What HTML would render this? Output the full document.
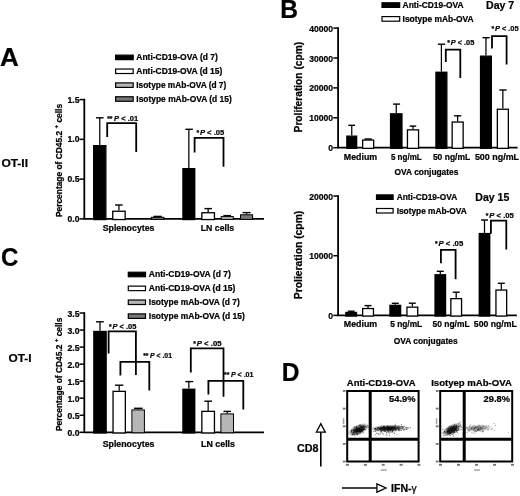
<!DOCTYPE html>
<html><head><meta charset="utf-8"><title>Figure</title>
<style>
html,body{margin:0;padding:0;background:#fff;}
body{width:520px;height:496px;overflow:hidden;}
svg{display:block;font-family:"Liberation Sans",sans-serif;}
svg text{fill:#000;stroke:#000;stroke-width:0.22px;}
</style></head><body>
<svg width="520" height="496" viewBox="0 0 520 496">
<defs><filter id="soft" x="0" y="0" width="520" height="496" filterUnits="userSpaceOnUse"><feGaussianBlur stdDeviation="0.38"/></filter></defs>
<rect x="0" y="0" width="520" height="496" fill="#fff"/>
<g filter="url(#soft)">
<rect x="-5" y="-5" width="530" height="506" fill="#fff"/>
<text x="0" y="66.1" font-size="26" font-weight="bold" text-anchor="start" textLength="18.8" lengthAdjust="spacingAndGlyphs" >A</text>
<text x="280.3" y="17.5" font-size="26" font-weight="bold" text-anchor="start" textLength="17.8" lengthAdjust="spacingAndGlyphs" >B</text>
<text x="0.9" y="266" font-size="26" font-weight="bold" text-anchor="start" textLength="17.4" lengthAdjust="spacingAndGlyphs" >C</text>
<text x="281.8" y="381.2" font-size="26" font-weight="bold" text-anchor="start" textLength="17.8" lengthAdjust="spacingAndGlyphs" >D</text>
<text x="1.4" y="167.1" font-size="11.8" font-weight="bold" text-anchor="start" textLength="26.6" lengthAdjust="spacingAndGlyphs" >OT-II</text>
<rect x="115.6" y="55.15" width="17.6" height="4.5" fill="#000" stroke="#000" stroke-width="1.2"/>
<text x="136.3" y="60.10" font-size="8.2" font-weight="bold" text-anchor="start" textLength="81.5" lengthAdjust="spacingAndGlyphs" >Anti-CD19-OVA (d 7)</text>
<rect x="115.6" y="69.02" width="17.6" height="4.5" fill="#fff" stroke="#000" stroke-width="1.2"/>
<text x="136.3" y="73.97" font-size="8.2" font-weight="bold" text-anchor="start" textLength="86" lengthAdjust="spacingAndGlyphs" >Anti-CD19-OVA (d 15)</text>
<rect x="115.6" y="82.89" width="17.6" height="4.5" fill="#b6b6b6" stroke="#000" stroke-width="1.2"/>
<text x="136.3" y="87.84" font-size="8.2" font-weight="bold" text-anchor="start" textLength="90" lengthAdjust="spacingAndGlyphs" >Isotype mAb-OVA (d 7)</text>
<rect x="115.6" y="96.75999999999999" width="17.6" height="4.5" fill="#787878" stroke="#000" stroke-width="1.2"/>
<text x="136.3" y="101.71" font-size="8.2" font-weight="bold" text-anchor="start" textLength="95.5" lengthAdjust="spacingAndGlyphs" >Isotype mAb-OVA (d 15)</text>
<path d="M84.3 98.85 V218.9 H264" fill="none" stroke="#000" stroke-width="1.8"/>
<line x1="79.5" y1="218.90" x2="84.3" y2="218.90" stroke="#000" stroke-width="1.5"/>
<text x="79.5" y="221.90" font-size="8.6" font-weight="bold" text-anchor="end" >0.0</text>
<line x1="79.5" y1="179.13" x2="84.3" y2="179.13" stroke="#000" stroke-width="1.5"/>
<text x="79.5" y="182.13" font-size="8.6" font-weight="bold" text-anchor="end" >0.5</text>
<line x1="79.5" y1="139.36" x2="84.3" y2="139.36" stroke="#000" stroke-width="1.5"/>
<text x="79.5" y="142.36" font-size="8.6" font-weight="bold" text-anchor="end" >1.0</text>
<line x1="79.5" y1="99.59" x2="84.3" y2="99.59" stroke="#000" stroke-width="1.5"/>
<text x="79.5" y="102.59" font-size="8.6" font-weight="bold" text-anchor="end" >1.5</text>
<text transform="translate(61.5,217.1) rotate(-90)" font-size="8.2" font-weight="bold" textLength="113.2" lengthAdjust="spacingAndGlyphs">Percentage of CD45.2 <tspan font-size="6" dy="-3.4">+</tspan><tspan dy="3.4"> cells</tspan></text>
<line x1="99.75" y1="145" x2="99.75" y2="117.8" stroke="#000" stroke-width="1.25"/>
<line x1="96" y1="117.8" x2="103.6" y2="117.8" stroke="#000" stroke-width="1.4"/>
<rect x="93.65" y="145.65" width="12.20" height="73.90" fill="#000" stroke="#000" stroke-width="1.3"/>
<line x1="118.95" y1="210.6" x2="118.95" y2="205" stroke="#000" stroke-width="1.25"/>
<line x1="115.1" y1="205" x2="122.6" y2="205" stroke="#000" stroke-width="1.4"/>
<rect x="112.75" y="211.25" width="12.40" height="8.30" fill="#fff" stroke="#000" stroke-width="1.3"/>
<line x1="157.60" y1="216.8" x2="157.60" y2="216.4" stroke="#000" stroke-width="1.25"/>
<line x1="153.4" y1="216.4" x2="161.8" y2="216.4" stroke="#000" stroke-width="1.4"/>
<rect x="151.30" y="217.30" width="12.60" height="2.10" fill="#787878" stroke="#000" stroke-width="1"/>
<line x1="188.85" y1="168" x2="188.85" y2="129.3" stroke="#000" stroke-width="1.25"/>
<line x1="185.4" y1="129.3" x2="192.9" y2="129.3" stroke="#000" stroke-width="1.4"/>
<rect x="182.95" y="168.65" width="11.80" height="50.90" fill="#000" stroke="#000" stroke-width="1.3"/>
<line x1="208.15" y1="212.1" x2="208.15" y2="208.6" stroke="#000" stroke-width="1.25"/>
<line x1="204.4" y1="208.6" x2="212" y2="208.6" stroke="#000" stroke-width="1.4"/>
<rect x="201.85" y="212.75" width="12.60" height="6.80" fill="#fff" stroke="#000" stroke-width="1.3"/>
<line x1="227.25" y1="216.1" x2="227.25" y2="215.6" stroke="#000" stroke-width="1.25"/>
<line x1="223.4" y1="215.6" x2="231" y2="215.6" stroke="#000" stroke-width="1.4"/>
<rect x="221.20" y="216.60" width="12.10" height="2.80" fill="#b6b6b6" stroke="#000" stroke-width="1"/>
<line x1="246.55" y1="214.3" x2="246.55" y2="212.6" stroke="#000" stroke-width="1.25"/>
<line x1="242.6" y1="212.6" x2="250.6" y2="212.6" stroke="#000" stroke-width="1.4"/>
<rect x="240.50" y="214.80" width="12.10" height="4.60" fill="#787878" stroke="#000" stroke-width="1"/>
<path d="M107.2 137 V123.2 H136.2 V152" fill="none" stroke="#000" stroke-width="1.8" stroke-linejoin="miter"/>
<text x="107.2" y="120.5" font-size="6.8" font-weight="bold">**</text>
<text x="114.10" y="120.5" font-size="7.0" font-weight="bold" textLength="24.00" lengthAdjust="spacingAndGlyphs"><tspan font-style="italic">P</tspan> &lt; .01</text>
<path d="M194.6 152.4 V137.8 H223.5 V166.8" fill="none" stroke="#000" stroke-width="1.8" stroke-linejoin="miter"/>
<text x="196.4" y="134.8" font-size="6.8" font-weight="bold">*</text>
<text x="199.90" y="134.8" font-size="7.0" font-weight="bold" textLength="24.30" lengthAdjust="spacingAndGlyphs"><tspan font-style="italic">P</tspan> &lt; .05</text>
<text x="102.7" y="230.5" font-size="9.0" font-weight="bold" text-anchor="start" textLength="51.8" lengthAdjust="spacingAndGlyphs" >Splenocytes</text>
<text x="200.8" y="230.5" font-size="9.0" font-weight="bold" text-anchor="start" textLength="33.4" lengthAdjust="spacingAndGlyphs" >LN cells</text>
<text x="8.5" y="361.5" font-size="11.6" font-weight="bold" text-anchor="start" textLength="23" lengthAdjust="spacingAndGlyphs" >OT-I</text>
<rect x="128.3" y="272.25" width="17.2" height="4.5" fill="#000" stroke="#000" stroke-width="1.2"/>
<text x="148.8" y="277.30" font-size="8.2" font-weight="bold" text-anchor="start" textLength="82" lengthAdjust="spacingAndGlyphs" >Anti-CD19-OVA (d 7)</text>
<rect x="128.3" y="286.13" width="17.2" height="4.5" fill="#fff" stroke="#000" stroke-width="1.2"/>
<text x="148.8" y="291.18" font-size="8.2" font-weight="bold" text-anchor="start" textLength="86.5" lengthAdjust="spacingAndGlyphs" >Anti-CD19-OVA (d 15)</text>
<rect x="128.3" y="300.01" width="17.2" height="4.5" fill="#b6b6b6" stroke="#000" stroke-width="1.2"/>
<text x="148.8" y="305.06" font-size="8.2" font-weight="bold" text-anchor="start" textLength="91" lengthAdjust="spacingAndGlyphs" >Isotype mAb-OVA (d 7)</text>
<rect x="128.3" y="313.89" width="17.2" height="4.5" fill="#787878" stroke="#000" stroke-width="1.2"/>
<text x="148.8" y="318.94" font-size="8.2" font-weight="bold" text-anchor="start" textLength="96" lengthAdjust="spacingAndGlyphs" >Isotype mAb-OVA (d 15)</text>
<path d="M84.3 312.3 V432.3 H264" fill="none" stroke="#000" stroke-width="1.8"/>
<line x1="79.5" y1="432.30" x2="84.3" y2="432.30" stroke="#000" stroke-width="1.5"/>
<text x="79.5" y="436.10" font-size="8.6" font-weight="bold" text-anchor="end" >0.0</text>
<line x1="79.5" y1="415.26" x2="84.3" y2="415.26" stroke="#000" stroke-width="1.5"/>
<text x="79.5" y="419.06" font-size="8.6" font-weight="bold" text-anchor="end" >0.5</text>
<line x1="79.5" y1="398.22" x2="84.3" y2="398.22" stroke="#000" stroke-width="1.5"/>
<text x="79.5" y="402.02" font-size="8.6" font-weight="bold" text-anchor="end" >1.0</text>
<line x1="79.5" y1="381.18" x2="84.3" y2="381.18" stroke="#000" stroke-width="1.5"/>
<text x="79.5" y="384.98" font-size="8.6" font-weight="bold" text-anchor="end" >1.5</text>
<line x1="79.5" y1="364.14" x2="84.3" y2="364.14" stroke="#000" stroke-width="1.5"/>
<text x="79.5" y="367.94" font-size="8.6" font-weight="bold" text-anchor="end" >2.0</text>
<line x1="79.5" y1="347.10" x2="84.3" y2="347.10" stroke="#000" stroke-width="1.5"/>
<text x="79.5" y="350.90" font-size="8.6" font-weight="bold" text-anchor="end" >2.5</text>
<line x1="79.5" y1="330.06" x2="84.3" y2="330.06" stroke="#000" stroke-width="1.5"/>
<text x="79.5" y="333.86" font-size="8.6" font-weight="bold" text-anchor="end" >3.0</text>
<line x1="79.5" y1="313.02" x2="84.3" y2="313.02" stroke="#000" stroke-width="1.5"/>
<text x="79.5" y="316.82" font-size="8.6" font-weight="bold" text-anchor="end" >3.5</text>
<text transform="translate(61.5,431) rotate(-90)" font-size="8.2" font-weight="bold" textLength="113.4" lengthAdjust="spacingAndGlyphs">Percentage of CD45.2 <tspan font-size="6" dy="-3.4">+</tspan><tspan dy="3.4"> cells</tspan></text>
<line x1="100.00" y1="330.8" x2="100.00" y2="321.8" stroke="#000" stroke-width="1.25"/>
<line x1="96" y1="321.8" x2="103.8" y2="321.8" stroke="#000" stroke-width="1.4"/>
<rect x="93.85" y="331.45" width="12.30" height="101.50" fill="#000" stroke="#000" stroke-width="1.3"/>
<line x1="119.20" y1="390.7" x2="119.20" y2="385.2" stroke="#000" stroke-width="1.25"/>
<line x1="115" y1="385.2" x2="123.4" y2="385.2" stroke="#000" stroke-width="1.4"/>
<rect x="113.05" y="391.35" width="12.30" height="41.60" fill="#fff" stroke="#000" stroke-width="1.3"/>
<line x1="138.15" y1="409.4" x2="138.15" y2="408.3" stroke="#000" stroke-width="1.25"/>
<line x1="134" y1="408.3" x2="142.6" y2="408.3" stroke="#000" stroke-width="1.4"/>
<rect x="131.90" y="409.90" width="12.50" height="22.90" fill="#b6b6b6" stroke="#000" stroke-width="1"/>
<line x1="188.85" y1="388.6" x2="188.85" y2="381.6" stroke="#000" stroke-width="1.25"/>
<line x1="185.4" y1="381.6" x2="193.2" y2="381.6" stroke="#000" stroke-width="1.4"/>
<rect x="182.95" y="389.25" width="11.80" height="43.70" fill="#000" stroke="#000" stroke-width="1.3"/>
<line x1="208.15" y1="410.7" x2="208.15" y2="401.2" stroke="#000" stroke-width="1.25"/>
<line x1="204.4" y1="401.2" x2="212" y2="401.2" stroke="#000" stroke-width="1.4"/>
<rect x="201.85" y="411.35" width="12.60" height="21.60" fill="#fff" stroke="#000" stroke-width="1.3"/>
<line x1="227.20" y1="413.4" x2="227.20" y2="411.4" stroke="#000" stroke-width="1.25"/>
<line x1="223.5" y1="411.4" x2="231" y2="411.4" stroke="#000" stroke-width="1.4"/>
<rect x="220.90" y="413.90" width="12.60" height="18.90" fill="#b6b6b6" stroke="#000" stroke-width="1"/>
<path d="M108.6 353.4 V331.3 H135.9 V375" fill="none" stroke="#000" stroke-width="1.8" stroke-linejoin="miter"/>
<path d="M120.4 375.6 V361.8 H149.3 V390.4" fill="none" stroke="#000" stroke-width="1.8" stroke-linejoin="miter"/>
<text x="109" y="328.6" font-size="6.8" font-weight="bold">*</text>
<text x="112.50" y="328.6" font-size="7.0" font-weight="bold" textLength="23.90" lengthAdjust="spacingAndGlyphs"><tspan font-style="italic">P</tspan> &lt; .05</text>
<text x="143.2" y="357.9" font-size="6.8" font-weight="bold">**</text>
<text x="150.10" y="357.9" font-size="7.0" font-weight="bold" textLength="21.90" lengthAdjust="spacingAndGlyphs"><tspan font-style="italic">P</tspan> &lt; .01</text>
<path d="M190.8 372.5 V348.4 H223.5 V396.7" fill="none" stroke="#000" stroke-width="1.8" stroke-linejoin="miter"/>
<path d="M208.4 394.5 V380.8 H243.3 V409.4" fill="none" stroke="#000" stroke-width="1.8" stroke-linejoin="miter"/>
<text x="193.3" y="346.3" font-size="6.8" font-weight="bold">*</text>
<text x="196.80" y="346.3" font-size="7.0" font-weight="bold" textLength="24.70" lengthAdjust="spacingAndGlyphs"><tspan font-style="italic">P</tspan> &lt; .05</text>
<text x="224" y="377.2" font-size="6.8" font-weight="bold">**</text>
<text x="230.90" y="377.2" font-size="7.0" font-weight="bold" textLength="22.60" lengthAdjust="spacingAndGlyphs"><tspan font-style="italic">P</tspan> &lt; .01</text>
<text x="102.7" y="446.8" font-size="9.0" font-weight="bold" text-anchor="start" textLength="51.8" lengthAdjust="spacingAndGlyphs" >Splenocytes</text>
<text x="201" y="446.8" font-size="9.0" font-weight="bold" text-anchor="start" textLength="34" lengthAdjust="spacingAndGlyphs" >LN cells</text>
<rect x="382.0" y="2.8000000000000003" width="17.7" height="4.6" fill="#000" stroke="#000" stroke-width="1.2"/>
<text x="402.6" y="7.9" font-size="8.2" font-weight="bold" text-anchor="start" textLength="61" lengthAdjust="spacingAndGlyphs" >Anti-CD19-OVA</text>
<rect x="382.0" y="16.6" width="17.7" height="4.6" fill="#fff" stroke="#000" stroke-width="1.2"/>
<text x="402.6" y="22.2" font-size="8.2" font-weight="bold" text-anchor="start" textLength="71" lengthAdjust="spacingAndGlyphs" >Isotype mAb-OVA</text>
<text x="486.0" y="8.95" font-size="10.4" font-weight="bold" text-anchor="start" textLength="28.2" lengthAdjust="spacingAndGlyphs" >Day 7</text>
<path d="M338.1 27.3 V147.7 H517.6" fill="none" stroke="#000" stroke-width="1.8"/>
<line x1="333.3" y1="147.70" x2="338.1" y2="147.70" stroke="#000" stroke-width="1.5"/>
<text x="333.1" y="151.20" font-size="8.6" font-weight="bold" text-anchor="end" >0</text>
<line x1="333.3" y1="117.80" x2="338.1" y2="117.80" stroke="#000" stroke-width="1.5"/>
<text x="333.1" y="121.30" font-size="8.6" font-weight="bold" text-anchor="end" >10000</text>
<line x1="333.3" y1="87.90" x2="338.1" y2="87.90" stroke="#000" stroke-width="1.5"/>
<text x="333.1" y="91.40" font-size="8.6" font-weight="bold" text-anchor="end" >20000</text>
<line x1="333.3" y1="58.00" x2="338.1" y2="58.00" stroke="#000" stroke-width="1.5"/>
<text x="333.1" y="61.50" font-size="8.6" font-weight="bold" text-anchor="end" >30000</text>
<line x1="333.3" y1="28.10" x2="338.1" y2="28.10" stroke="#000" stroke-width="1.5"/>
<text x="333.1" y="31.60" font-size="8.6" font-weight="bold" text-anchor="end" >40000</text>
<text transform="translate(301.8,132.4) rotate(-90)" font-size="10.6" font-weight="bold" textLength="90.5" lengthAdjust="spacingAndGlyphs">Proliferation (cpm)</text>
<line x1="351.75" y1="135.5" x2="351.75" y2="125.3" stroke="#000" stroke-width="1.25"/>
<line x1="348.3" y1="125.3" x2="355.1" y2="125.3" stroke="#000" stroke-width="1.4"/>
<rect x="346.85" y="136.15" width="9.80" height="12.20" fill="#000" stroke="#000" stroke-width="1.3"/>
<line x1="368.15" y1="139.4" x2="368.15" y2="139.0" stroke="#000" stroke-width="1.25"/>
<line x1="364.5" y1="139.0" x2="371.8" y2="139.0" stroke="#000" stroke-width="1.4"/>
<rect x="362.65" y="140.05" width="11.00" height="8.30" fill="#fff" stroke="#000" stroke-width="1.3"/>
<line x1="396.25" y1="113.2" x2="396.25" y2="104.1" stroke="#000" stroke-width="1.25"/>
<line x1="393.0" y1="104.1" x2="400.1" y2="104.1" stroke="#000" stroke-width="1.4"/>
<rect x="390.55" y="113.85" width="11.40" height="34.50" fill="#000" stroke="#000" stroke-width="1.3"/>
<line x1="413.00" y1="129.2" x2="413.00" y2="126.1" stroke="#000" stroke-width="1.25"/>
<line x1="409.6" y1="126.1" x2="416.2" y2="126.1" stroke="#000" stroke-width="1.4"/>
<rect x="407.45" y="129.85" width="11.10" height="18.50" fill="#fff" stroke="#000" stroke-width="1.3"/>
<line x1="441.40" y1="71.6" x2="441.40" y2="44.2" stroke="#000" stroke-width="1.25"/>
<line x1="437.9" y1="44.2" x2="445.2" y2="44.2" stroke="#000" stroke-width="1.4"/>
<rect x="435.95" y="72.25" width="10.90" height="76.10" fill="#000" stroke="#000" stroke-width="1.3"/>
<line x1="457.65" y1="121.4" x2="457.65" y2="115.8" stroke="#000" stroke-width="1.25"/>
<line x1="454.1" y1="115.8" x2="461.3" y2="115.8" stroke="#000" stroke-width="1.4"/>
<rect x="452.15" y="122.05" width="11.00" height="26.30" fill="#fff" stroke="#000" stroke-width="1.3"/>
<line x1="485.95" y1="55.5" x2="485.95" y2="37.7" stroke="#000" stroke-width="1.25"/>
<line x1="482.5" y1="37.7" x2="489.7" y2="37.7" stroke="#000" stroke-width="1.4"/>
<rect x="480.55" y="56.15" width="10.80" height="92.20" fill="#000" stroke="#000" stroke-width="1.3"/>
<line x1="502.85" y1="108.6" x2="502.85" y2="90" stroke="#000" stroke-width="1.25"/>
<line x1="499.3" y1="90" x2="506.6" y2="90" stroke="#000" stroke-width="1.4"/>
<rect x="497.35" y="109.25" width="11.00" height="39.10" fill="#fff" stroke="#000" stroke-width="1.3"/>
<path d="M445.8 62 V49.7 H460.3 V78" fill="none" stroke="#000" stroke-width="1.8" stroke-linejoin="miter"/>
<text x="447.3" y="44.5" font-size="6.8" font-weight="bold">*</text>
<text x="450.80" y="44.5" font-size="7.0" font-weight="bold" textLength="23.50" lengthAdjust="spacingAndGlyphs"><tspan font-style="italic">P</tspan> &lt; .05</text>
<path d="M492 48.6 V36.2 H506.6 V64.4" fill="none" stroke="#000" stroke-width="1.8" stroke-linejoin="miter"/>
<text x="491.4" y="30.9" font-size="6.8" font-weight="bold">*</text>
<text x="494.90" y="30.9" font-size="7.0" font-weight="bold" textLength="23.70" lengthAdjust="spacingAndGlyphs"><tspan font-style="italic">P</tspan> &lt; .05</text>
<text x="343.8" y="159.6" font-size="9.2" font-weight="bold" text-anchor="start" textLength="33.4" lengthAdjust="spacingAndGlyphs" >Medium</text>
<text x="390.9" y="159.6" font-size="9.2" font-weight="bold" text-anchor="start" textLength="30.8" lengthAdjust="spacingAndGlyphs" >5 ng/mL</text>
<text x="432.9" y="159.6" font-size="9.2" font-weight="bold" text-anchor="start" textLength="37.3" lengthAdjust="spacingAndGlyphs" >50 ng/mL</text>
<text x="474.9" y="159.7" font-size="9.2" font-weight="bold" text-anchor="start" textLength="44.2" lengthAdjust="spacingAndGlyphs" >500 ng/mL</text>
<text x="394.6" y="174.6" font-size="8.8" font-weight="bold" text-anchor="start" textLength="63.8" lengthAdjust="spacingAndGlyphs" >OVA conjugates</text>
<rect x="376.5" y="194.9" width="16.6" height="4.5" fill="#000" stroke="#000" stroke-width="1.2"/>
<text x="396.7" y="199.8" font-size="8.2" font-weight="bold" text-anchor="start" textLength="60.5" lengthAdjust="spacingAndGlyphs" >Anti-CD19-OVA</text>
<rect x="376.5" y="208.5" width="16.6" height="4.5" fill="#fff" stroke="#000" stroke-width="1.2"/>
<text x="396.7" y="213.9" font-size="8.2" font-weight="bold" text-anchor="start" textLength="70.1" lengthAdjust="spacingAndGlyphs" >Isotype mAb-OVA</text>
<text x="475.3" y="201.4" font-size="10.4" font-weight="bold" text-anchor="start" textLength="34.0" lengthAdjust="spacingAndGlyphs" >Day 15</text>
<path d="M338.1 195.2 V315.4 H516.8" fill="none" stroke="#000" stroke-width="1.8"/>
<line x1="333.3" y1="315.40" x2="338.1" y2="315.40" stroke="#000" stroke-width="1.5"/>
<text x="333.1" y="318.90" font-size="8.6" font-weight="bold" text-anchor="end" >0</text>
<line x1="333.3" y1="255.70" x2="338.1" y2="255.70" stroke="#000" stroke-width="1.5"/>
<text x="333.1" y="259.20" font-size="8.6" font-weight="bold" text-anchor="end" >10000</text>
<line x1="333.3" y1="196.00" x2="338.1" y2="196.00" stroke="#000" stroke-width="1.5"/>
<text x="333.1" y="199.50" font-size="8.6" font-weight="bold" text-anchor="end" >20000</text>
<text transform="translate(301.8,299.2) rotate(-90)" font-size="10.6" font-weight="bold" textLength="88.5" lengthAdjust="spacingAndGlyphs">Prolieration (cpm)</text>
<line x1="351.15" y1="311.8" x2="351.15" y2="311.2" stroke="#000" stroke-width="1.25"/>
<line x1="347.8" y1="311.2" x2="354.6" y2="311.2" stroke="#000" stroke-width="1.4"/>
<rect x="345.85" y="312.45" width="10.60" height="3.60" fill="#000" stroke="#000" stroke-width="1.3"/>
<line x1="368.05" y1="307.9" x2="368.05" y2="305.6" stroke="#000" stroke-width="1.25"/>
<line x1="364.5" y1="305.6" x2="371.5" y2="305.6" stroke="#000" stroke-width="1.4"/>
<rect x="362.65" y="308.55" width="10.80" height="7.50" fill="#fff" stroke="#000" stroke-width="1.3"/>
<line x1="395.30" y1="304.7" x2="395.30" y2="303.3" stroke="#000" stroke-width="1.25"/>
<line x1="391.8" y1="303.3" x2="398.8" y2="303.3" stroke="#000" stroke-width="1.4"/>
<rect x="389.95" y="305.35" width="10.70" height="10.70" fill="#000" stroke="#000" stroke-width="1.3"/>
<line x1="412.35" y1="306.5" x2="412.35" y2="303.2" stroke="#000" stroke-width="1.25"/>
<line x1="408.8" y1="303.2" x2="415.8" y2="303.2" stroke="#000" stroke-width="1.4"/>
<rect x="406.95" y="307.15" width="10.80" height="8.90" fill="#fff" stroke="#000" stroke-width="1.3"/>
<line x1="440.30" y1="274.1" x2="440.30" y2="271.3" stroke="#000" stroke-width="1.25"/>
<line x1="436.8" y1="271.3" x2="443.8" y2="271.3" stroke="#000" stroke-width="1.4"/>
<rect x="435.05" y="274.75" width="10.50" height="41.30" fill="#000" stroke="#000" stroke-width="1.3"/>
<line x1="456.20" y1="298" x2="456.20" y2="292.2" stroke="#000" stroke-width="1.25"/>
<line x1="452.7" y1="292.2" x2="459.7" y2="292.2" stroke="#000" stroke-width="1.4"/>
<rect x="450.85" y="298.65" width="10.70" height="17.40" fill="#fff" stroke="#000" stroke-width="1.3"/>
<line x1="484.50" y1="232.9" x2="484.50" y2="220" stroke="#000" stroke-width="1.25"/>
<line x1="481" y1="220" x2="488" y2="220" stroke="#000" stroke-width="1.4"/>
<rect x="479.25" y="233.55" width="10.50" height="82.50" fill="#000" stroke="#000" stroke-width="1.3"/>
<line x1="501.30" y1="289.4" x2="501.30" y2="283.3" stroke="#000" stroke-width="1.25"/>
<line x1="497.8" y1="283.3" x2="504.8" y2="283.3" stroke="#000" stroke-width="1.4"/>
<rect x="495.95" y="290.05" width="10.70" height="26.00" fill="#fff" stroke="#000" stroke-width="1.3"/>
<path d="M440.9 263.2 V249.8 H455.6 V279.3" fill="none" stroke="#000" stroke-width="1.8" stroke-linejoin="miter"/>
<text x="435" y="246" font-size="6.8" font-weight="bold">*</text>
<text x="438.50" y="246" font-size="7.0" font-weight="bold" textLength="24.70" lengthAdjust="spacingAndGlyphs"><tspan font-style="italic">P</tspan> &lt; .05</text>
<path d="M490.9 233.8 V220.7 H506.3 V249.5" fill="none" stroke="#000" stroke-width="1.8" stroke-linejoin="miter"/>
<text x="485.8" y="218.4" font-size="6.8" font-weight="bold">*</text>
<text x="489.30" y="218.4" font-size="7.0" font-weight="bold" textLength="24.50" lengthAdjust="spacingAndGlyphs"><tspan font-style="italic">P</tspan> &lt; .05</text>
<text x="343.8" y="326.8" font-size="9.2" font-weight="bold" text-anchor="start" textLength="33.4" lengthAdjust="spacingAndGlyphs" >Medium</text>
<text x="390.2" y="326.8" font-size="9.2" font-weight="bold" text-anchor="start" textLength="32" lengthAdjust="spacingAndGlyphs" >5 ng/mL</text>
<text x="432.6" y="326.8" font-size="9.2" font-weight="bold" text-anchor="start" textLength="37" lengthAdjust="spacingAndGlyphs" >50 ng/mL</text>
<text x="473.8" y="326.5" font-size="9.2" font-weight="bold" text-anchor="start" textLength="43" lengthAdjust="spacingAndGlyphs" >500 ng/mL</text>
<text x="393.7" y="343.8" font-size="8.8" font-weight="bold" text-anchor="start" textLength="64" lengthAdjust="spacingAndGlyphs" >OVA conjugates</text>
<text x="346.8" y="385.5" font-size="9.6" font-weight="bold" text-anchor="start" textLength="68.8" lengthAdjust="spacingAndGlyphs" >Anti-CD19-OVA</text>
<text x="431.2" y="385.5" font-size="9.6" font-weight="bold" text-anchor="start" textLength="80.6" lengthAdjust="spacingAndGlyphs" >Isotyep mAb-OVA</text>
<defs><radialGradient id="g1"><stop offset="0" stop-color="#000" stop-opacity="0.9"/><stop offset="0.4" stop-color="#000" stop-opacity="0.72"/><stop offset="0.75" stop-color="#000" stop-opacity="0.3"/><stop offset="1" stop-color="#000" stop-opacity="0"/></radialGradient><radialGradient id="g2"><stop offset="0" stop-color="#000" stop-opacity="0.5"/><stop offset="0.5" stop-color="#000" stop-opacity="0.32"/><stop offset="1" stop-color="#000" stop-opacity="0"/></radialGradient><filter id="bl" x="-5%" y="-5%" width="110%" height="110%"><feGaussianBlur stdDeviation="0.5"/></filter></defs>
<rect x="347.2" y="391" width="71.40000000000003" height="70.5" fill="#fff" stroke="#000" stroke-width="2"/>
<g filter="url(#bl)">
<ellipse cx="358.4" cy="429.6" rx="11.5" ry="5.2" transform="rotate(-24 358.4 429.6)" fill="url(#g1)"/>
<ellipse cx="388.5" cy="428.3" rx="18.5" ry="3.8" transform="rotate(-2 388.5 428.3)" fill="url(#g1)"/>
<rect x="354.0" y="432.4" width="1" height="1" opacity="0.6"/>
<rect x="361.4" y="427.3" width="1" height="1" opacity="0.6"/>
<rect x="353.3" y="431.8" width="1" height="1" opacity="0.6"/>
<rect x="360.8" y="430.9" width="1" height="1" opacity="0.6"/>
<rect x="352.8" y="429.5" width="1" height="1" opacity="0.6"/>
<rect x="361.1" y="429.5" width="1" height="1" opacity="0.6"/>
<rect x="364.6" y="429.0" width="1" height="1" opacity="0.6"/>
<rect x="357.6" y="429.5" width="1" height="1" opacity="0.6"/>
<rect x="367.4" y="425.1" width="1" height="1" opacity="0.6"/>
<rect x="354.5" y="429.1" width="1" height="1" opacity="0.6"/>
<rect x="358.7" y="429.9" width="1" height="1" opacity="0.6"/>
<rect x="356.9" y="430.3" width="1" height="1" opacity="0.6"/>
<rect x="359.7" y="430.6" width="1" height="1" opacity="0.6"/>
<rect x="362.4" y="428.4" width="1" height="1" opacity="0.6"/>
<rect x="352.2" y="433.9" width="1" height="1" opacity="0.6"/>
<rect x="352.9" y="431.8" width="1" height="1" opacity="0.6"/>
<rect x="352.8" y="432.2" width="1" height="1" opacity="0.6"/>
<rect x="355.5" y="431.4" width="1" height="1" opacity="0.6"/>
<rect x="370.2" y="424.3" width="1" height="1" opacity="0.6"/>
<rect x="360.3" y="426.1" width="1" height="1" opacity="0.6"/>
<rect x="357.7" y="431.4" width="1" height="1" opacity="0.6"/>
<rect x="358.1" y="430.6" width="1" height="1" opacity="0.6"/>
<rect x="357.8" y="427.9" width="1" height="1" opacity="0.6"/>
<rect x="359.6" y="427.5" width="1" height="1" opacity="0.6"/>
<rect x="364.6" y="425.9" width="1" height="1" opacity="0.6"/>
<rect x="360.7" y="428.7" width="1" height="1" opacity="0.6"/>
<rect x="361.2" y="427.2" width="1" height="1" opacity="0.6"/>
<rect x="361.8" y="428.0" width="1" height="1" opacity="0.6"/>
<rect x="363.3" y="428.8" width="1" height="1" opacity="0.6"/>
<rect x="358.1" y="428.2" width="1" height="1" opacity="0.6"/>
<rect x="361.4" y="429.4" width="1" height="1" opacity="0.6"/>
<rect x="363.9" y="426.5" width="1" height="1" opacity="0.6"/>
<rect x="360.6" y="429.8" width="1" height="1" opacity="0.6"/>
<rect x="359.4" y="429.7" width="1" height="1" opacity="0.6"/>
<rect x="358.4" y="428.5" width="1" height="1" opacity="0.6"/>
<rect x="354.2" y="430.8" width="1" height="1" opacity="0.6"/>
<rect x="361.5" y="431.5" width="1" height="1" opacity="0.6"/>
<rect x="362.6" y="430.0" width="1" height="1" opacity="0.6"/>
<rect x="361.6" y="429.7" width="1" height="1" opacity="0.6"/>
<rect x="359.5" y="430.8" width="1" height="1" opacity="0.6"/>
<rect x="364.4" y="426.3" width="1" height="1" opacity="0.6"/>
<rect x="357.2" y="434.3" width="1" height="1" opacity="0.6"/>
<rect x="359.8" y="431.1" width="1" height="1" opacity="0.6"/>
<rect x="360.5" y="426.4" width="1" height="1" opacity="0.6"/>
<rect x="368.5" y="428.9" width="1" height="1" opacity="0.6"/>
<rect x="359.4" y="430.8" width="1" height="1" opacity="0.6"/>
<rect x="358.0" y="428.1" width="1" height="1" opacity="0.6"/>
<rect x="358.1" y="430.6" width="1" height="1" opacity="0.6"/>
<rect x="362.8" y="429.2" width="1" height="1" opacity="0.6"/>
<rect x="359.5" y="432.1" width="1" height="1" opacity="0.6"/>
<rect x="356.0" y="432.4" width="1" height="1" opacity="0.6"/>
<rect x="362.0" y="427.5" width="1" height="1" opacity="0.6"/>
<rect x="351.0" y="431.1" width="1" height="1" opacity="0.6"/>
<rect x="359.5" y="430.3" width="1" height="1" opacity="0.6"/>
<rect x="363.1" y="425.5" width="1" height="1" opacity="0.6"/>
<rect x="358.7" y="430.9" width="1" height="1" opacity="0.6"/>
<rect x="355.8" y="425.9" width="1" height="1" opacity="0.6"/>
<rect x="362.9" y="432.5" width="1" height="1" opacity="0.6"/>
<rect x="361.2" y="426.6" width="1" height="1" opacity="0.6"/>
<rect x="356.9" y="430.9" width="1" height="1" opacity="0.6"/>
<rect x="367.8" y="426.8" width="1" height="1" opacity="0.6"/>
<rect x="359.8" y="432.3" width="1" height="1" opacity="0.6"/>
<rect x="359.3" y="433.2" width="1" height="1" opacity="0.6"/>
<rect x="355.3" y="430.1" width="1" height="1" opacity="0.6"/>
<rect x="361.9" y="431.1" width="1" height="1" opacity="0.6"/>
<rect x="360.8" y="429.3" width="1" height="1" opacity="0.6"/>
<rect x="351.0" y="431.5" width="1" height="1" opacity="0.6"/>
<rect x="355.6" y="429.9" width="1" height="1" opacity="0.6"/>
<rect x="360.1" y="428.3" width="1" height="1" opacity="0.6"/>
<rect x="361.1" y="428.7" width="1" height="1" opacity="0.6"/>
<rect x="357.1" y="430.5" width="1" height="1" opacity="0.6"/>
<rect x="360.4" y="430.6" width="1" height="1" opacity="0.6"/>
<rect x="356.3" y="430.2" width="1" height="1" opacity="0.6"/>
<rect x="354.5" y="434.8" width="1" height="1" opacity="0.6"/>
<rect x="363.4" y="427.1" width="1" height="1" opacity="0.6"/>
<rect x="355.5" y="428.4" width="1" height="1" opacity="0.6"/>
<rect x="359.0" y="429.9" width="1" height="1" opacity="0.6"/>
<rect x="366.4" y="426.7" width="1" height="1" opacity="0.6"/>
<rect x="353.5" y="426.8" width="1" height="1" opacity="0.6"/>
<rect x="363.5" y="427.8" width="1" height="1" opacity="0.6"/>
<rect x="352.5" y="432.7" width="1" height="1" opacity="0.6"/>
<rect x="355.0" y="438.5" width="1" height="1" opacity="0.6"/>
<rect x="362.7" y="429.0" width="1" height="1" opacity="0.6"/>
<rect x="355.9" y="426.4" width="1" height="1" opacity="0.6"/>
<rect x="356.5" y="427.3" width="1" height="1" opacity="0.6"/>
<rect x="358.7" y="425.1" width="1" height="1" opacity="0.6"/>
<rect x="355.8" y="433.4" width="1" height="1" opacity="0.6"/>
<rect x="363.3" y="425.1" width="1" height="1" opacity="0.6"/>
<rect x="353.3" y="433.8" width="1" height="1" opacity="0.6"/>
<rect x="360.6" y="426.7" width="1" height="1" opacity="0.6"/>
<rect x="355.1" y="429.7" width="1" height="1" opacity="0.6"/>
<rect x="353.3" y="430.6" width="1" height="1" opacity="0.6"/>
<rect x="363.3" y="429.0" width="1" height="1" opacity="0.6"/>
<rect x="365.6" y="426.3" width="1" height="1" opacity="0.6"/>
<rect x="356.9" y="428.3" width="1" height="1" opacity="0.6"/>
<rect x="356.7" y="427.7" width="1" height="1" opacity="0.6"/>
<rect x="352.2" y="433.9" width="1" height="1" opacity="0.6"/>
<rect x="364.1" y="428.9" width="1" height="1" opacity="0.6"/>
<rect x="363.3" y="428.1" width="1" height="1" opacity="0.6"/>
<rect x="355.6" y="431.1" width="1" height="1" opacity="0.6"/>
<rect x="356.0" y="428.5" width="1" height="1" opacity="0.6"/>
<rect x="350.9" y="430.0" width="1" height="1" opacity="0.6"/>
<rect x="358.3" y="430.1" width="1" height="1" opacity="0.6"/>
<rect x="357.6" y="433.1" width="1" height="1" opacity="0.6"/>
<rect x="359.3" y="430.5" width="1" height="1" opacity="0.6"/>
<rect x="362.0" y="426.4" width="1" height="1" opacity="0.6"/>
<rect x="351.6" y="434.3" width="1" height="1" opacity="0.6"/>
<rect x="356.7" y="433.2" width="1" height="1" opacity="0.6"/>
<rect x="360.2" y="431.0" width="1" height="1" opacity="0.6"/>
<rect x="359.4" y="424.9" width="1" height="1" opacity="0.6"/>
<rect x="360.3" y="427.5" width="1" height="1" opacity="0.6"/>
<rect x="355.1" y="430.3" width="1" height="1" opacity="0.6"/>
<rect x="361.7" y="430.1" width="1" height="1" opacity="0.6"/>
<rect x="360.6" y="425.3" width="1" height="1" opacity="0.6"/>
<rect x="354.2" y="426.6" width="1" height="1" opacity="0.6"/>
<rect x="358.3" y="431.0" width="1" height="1" opacity="0.6"/>
<rect x="355.6" y="431.5" width="1" height="1" opacity="0.6"/>
<rect x="359.8" y="431.2" width="1" height="1" opacity="0.6"/>
<rect x="354.6" y="429.7" width="1" height="1" opacity="0.6"/>
<rect x="356.8" y="434.1" width="1" height="1" opacity="0.6"/>
<rect x="362.1" y="427.8" width="1" height="1" opacity="0.6"/>
<rect x="359.1" y="429.6" width="1" height="1" opacity="0.6"/>
<rect x="358.8" y="429.1" width="1" height="1" opacity="0.6"/>
<rect x="356.0" y="428.2" width="1" height="1" opacity="0.6"/>
<rect x="357.1" y="433.7" width="1" height="1" opacity="0.6"/>
<rect x="360.2" y="429.0" width="1" height="1" opacity="0.6"/>
<rect x="357.5" y="430.3" width="1" height="1" opacity="0.6"/>
<rect x="359.0" y="428.1" width="1" height="1" opacity="0.6"/>
<rect x="359.1" y="429.9" width="1" height="1" opacity="0.6"/>
<rect x="354.9" y="429.6" width="1" height="1" opacity="0.6"/>
<rect x="353.7" y="429.6" width="1" height="1" opacity="0.6"/>
<rect x="359.6" y="424.3" width="1" height="1" opacity="0.6"/>
<rect x="356.8" y="429.2" width="1" height="1" opacity="0.6"/>
<rect x="356.0" y="431.0" width="1" height="1" opacity="0.6"/>
<rect x="362.4" y="428.1" width="1" height="1" opacity="0.6"/>
<rect x="357.2" y="429.0" width="1" height="1" opacity="0.6"/>
<rect x="358.4" y="431.6" width="1" height="1" opacity="0.6"/>
<rect x="355.9" y="428.5" width="1" height="1" opacity="0.6"/>
<rect x="352.7" y="429.9" width="1" height="1" opacity="0.6"/>
<rect x="354.0" y="434.0" width="1" height="1" opacity="0.6"/>
<rect x="359.3" y="428.8" width="1" height="1" opacity="0.6"/>
<rect x="363.0" y="426.3" width="1" height="1" opacity="0.6"/>
<rect x="361.6" y="430.0" width="1" height="1" opacity="0.6"/>
<rect x="351.3" y="429.6" width="1" height="1" opacity="0.6"/>
<rect x="355.5" y="432.9" width="1" height="1" opacity="0.6"/>
<rect x="362.0" y="425.6" width="1" height="1" opacity="0.6"/>
<rect x="361.7" y="427.4" width="1" height="1" opacity="0.6"/>
<rect x="356.3" y="429.5" width="1" height="1" opacity="0.6"/>
<rect x="355.6" y="427.2" width="1" height="1" opacity="0.6"/>
<rect x="353.6" y="429.3" width="1" height="1" opacity="0.6"/>
<rect x="392.0" y="431.1" width="1" height="1" opacity="0.6"/>
<rect x="409.8" y="427.1" width="1" height="1" opacity="0.6"/>
<rect x="374.2" y="428.2" width="1" height="1" opacity="0.6"/>
<rect x="380.6" y="431.3" width="1" height="1" opacity="0.6"/>
<rect x="392.5" y="427.1" width="1" height="1" opacity="0.6"/>
<rect x="395.5" y="428.8" width="1" height="1" opacity="0.6"/>
<rect x="375.0" y="428.0" width="1" height="1" opacity="0.6"/>
<rect x="386.1" y="428.4" width="1" height="1" opacity="0.6"/>
<rect x="389.0" y="427.8" width="1" height="1" opacity="0.6"/>
<rect x="389.5" y="427.4" width="1" height="1" opacity="0.6"/>
<rect x="380.9" y="430.7" width="1" height="1" opacity="0.6"/>
<rect x="390.9" y="428.8" width="1" height="1" opacity="0.6"/>
<rect x="375.2" y="428.5" width="1" height="1" opacity="0.6"/>
<rect x="394.5" y="426.3" width="1" height="1" opacity="0.6"/>
<rect x="396.8" y="427.4" width="1" height="1" opacity="0.6"/>
<rect x="391.2" y="428.0" width="1" height="1" opacity="0.6"/>
<rect x="389.8" y="429.9" width="1" height="1" opacity="0.6"/>
<rect x="384.9" y="430.6" width="1" height="1" opacity="0.6"/>
<rect x="381.7" y="427.2" width="1" height="1" opacity="0.6"/>
<rect x="393.6" y="426.6" width="1" height="1" opacity="0.6"/>
<rect x="385.1" y="429.7" width="1" height="1" opacity="0.6"/>
<rect x="397.6" y="425.5" width="1" height="1" opacity="0.6"/>
<rect x="392.1" y="430.8" width="1" height="1" opacity="0.6"/>
<rect x="397.5" y="427.6" width="1" height="1" opacity="0.6"/>
<rect x="383.2" y="428.1" width="1" height="1" opacity="0.6"/>
<rect x="378.8" y="428.3" width="1" height="1" opacity="0.6"/>
<rect x="386.5" y="428.1" width="1" height="1" opacity="0.6"/>
<rect x="397.4" y="427.6" width="1" height="1" opacity="0.6"/>
<rect x="376.4" y="430.2" width="1" height="1" opacity="0.6"/>
<rect x="379.4" y="428.0" width="1" height="1" opacity="0.6"/>
<rect x="386.9" y="427.9" width="1" height="1" opacity="0.6"/>
<rect x="380.0" y="428.2" width="1" height="1" opacity="0.6"/>
<rect x="405.4" y="426.8" width="1" height="1" opacity="0.6"/>
<rect x="387.0" y="429.9" width="1" height="1" opacity="0.6"/>
<rect x="394.0" y="429.2" width="1" height="1" opacity="0.6"/>
<rect x="394.8" y="425.3" width="1" height="1" opacity="0.6"/>
<rect x="381.1" y="428.7" width="1" height="1" opacity="0.6"/>
<rect x="392.1" y="430.0" width="1" height="1" opacity="0.6"/>
<rect x="391.7" y="427.8" width="1" height="1" opacity="0.6"/>
<rect x="388.3" y="428.0" width="1" height="1" opacity="0.6"/>
<rect x="390.0" y="429.2" width="1" height="1" opacity="0.6"/>
<rect x="385.2" y="427.3" width="1" height="1" opacity="0.6"/>
<rect x="381.2" y="430.1" width="1" height="1" opacity="0.6"/>
<rect x="398.3" y="429.3" width="1" height="1" opacity="0.6"/>
<rect x="394.9" y="429.2" width="1" height="1" opacity="0.6"/>
<rect x="388.0" y="429.2" width="1" height="1" opacity="0.6"/>
<rect x="379.6" y="428.3" width="1" height="1" opacity="0.6"/>
<rect x="382.2" y="429.5" width="1" height="1" opacity="0.6"/>
<rect x="383.4" y="428.3" width="1" height="1" opacity="0.6"/>
<rect x="391.3" y="430.1" width="1" height="1" opacity="0.6"/>
<rect x="381.6" y="427.2" width="1" height="1" opacity="0.6"/>
<rect x="394.5" y="426.5" width="1" height="1" opacity="0.6"/>
<rect x="391.6" y="427.4" width="1" height="1" opacity="0.6"/>
<rect x="387.1" y="425.8" width="1" height="1" opacity="0.6"/>
<rect x="393.7" y="427.4" width="1" height="1" opacity="0.6"/>
<rect x="380.9" y="431.5" width="1" height="1" opacity="0.6"/>
<rect x="393.9" y="433.0" width="1" height="1" opacity="0.6"/>
<rect x="391.2" y="427.7" width="1" height="1" opacity="0.6"/>
<rect x="388.9" y="430.5" width="1" height="1" opacity="0.6"/>
<rect x="387.8" y="428.9" width="1" height="1" opacity="0.6"/>
<rect x="392.1" y="426.9" width="1" height="1" opacity="0.6"/>
<rect x="389.0" y="427.6" width="1" height="1" opacity="0.6"/>
<rect x="378.1" y="429.9" width="1" height="1" opacity="0.6"/>
<rect x="393.3" y="428.2" width="1" height="1" opacity="0.6"/>
<rect x="380.6" y="425.7" width="1" height="1" opacity="0.6"/>
<rect x="391.9" y="428.0" width="1" height="1" opacity="0.6"/>
<rect x="374.5" y="428.7" width="1" height="1" opacity="0.6"/>
<rect x="375.8" y="428.7" width="1" height="1" opacity="0.6"/>
<rect x="389.2" y="428.8" width="1" height="1" opacity="0.6"/>
<rect x="389.7" y="428.5" width="1" height="1" opacity="0.6"/>
<rect x="378.9" y="428.1" width="1" height="1" opacity="0.6"/>
<rect x="383.9" y="428.1" width="1" height="1" opacity="0.6"/>
<rect x="390.2" y="429.1" width="1" height="1" opacity="0.6"/>
<rect x="400.9" y="424.2" width="1" height="1" opacity="0.6"/>
<rect x="391.2" y="427.9" width="1" height="1" opacity="0.6"/>
<rect x="406.2" y="429.0" width="1" height="1" opacity="0.6"/>
<rect x="374.8" y="429.3" width="1" height="1" opacity="0.6"/>
<rect x="383.9" y="429.8" width="1" height="1" opacity="0.6"/>
<rect x="379.6" y="428.5" width="1" height="1" opacity="0.6"/>
<rect x="386.9" y="428.2" width="1" height="1" opacity="0.6"/>
<rect x="383.2" y="425.9" width="1" height="1" opacity="0.6"/>
<rect x="391.7" y="429.6" width="1" height="1" opacity="0.6"/>
<rect x="387.4" y="426.9" width="1" height="1" opacity="0.6"/>
<rect x="389.7" y="429.0" width="1" height="1" opacity="0.6"/>
<rect x="386.6" y="428.3" width="1" height="1" opacity="0.6"/>
<rect x="399.2" y="426.3" width="1" height="1" opacity="0.6"/>
<rect x="383.4" y="425.8" width="1" height="1" opacity="0.6"/>
<rect x="382.4" y="427.5" width="1" height="1" opacity="0.6"/>
<rect x="380.3" y="427.6" width="1" height="1" opacity="0.6"/>
<rect x="402.4" y="427.5" width="1" height="1" opacity="0.6"/>
<rect x="387.2" y="431.4" width="1" height="1" opacity="0.6"/>
<rect x="387.4" y="425.9" width="1" height="1" opacity="0.6"/>
<rect x="391.2" y="426.9" width="1" height="1" opacity="0.6"/>
<rect x="401.0" y="426.1" width="1" height="1" opacity="0.6"/>
<rect x="383.3" y="426.2" width="1" height="1" opacity="0.6"/>
<rect x="388.7" y="426.9" width="1" height="1" opacity="0.6"/>
<rect x="387.5" y="427.8" width="1" height="1" opacity="0.6"/>
<rect x="383.1" y="429.8" width="1" height="1" opacity="0.6"/>
<rect x="395.5" y="428.1" width="1" height="1" opacity="0.6"/>
<rect x="380.7" y="427.1" width="1" height="1" opacity="0.6"/>
<rect x="390.3" y="431.6" width="1" height="1" opacity="0.6"/>
<rect x="384.3" y="427.3" width="1" height="1" opacity="0.6"/>
<rect x="382.4" y="427.0" width="1" height="1" opacity="0.6"/>
<rect x="380.2" y="428.3" width="1" height="1" opacity="0.6"/>
<rect x="399.5" y="427.9" width="1" height="1" opacity="0.6"/>
<rect x="383.8" y="426.2" width="1" height="1" opacity="0.6"/>
<rect x="389.7" y="428.2" width="1" height="1" opacity="0.6"/>
<rect x="378.1" y="427.1" width="1" height="1" opacity="0.6"/>
<rect x="387.7" y="429.7" width="1" height="1" opacity="0.6"/>
<rect x="393.0" y="428.4" width="1" height="1" opacity="0.6"/>
<rect x="385.4" y="428.8" width="1" height="1" opacity="0.6"/>
<rect x="388.0" y="431.3" width="1" height="1" opacity="0.6"/>
<rect x="378.9" y="428.1" width="1" height="1" opacity="0.6"/>
<rect x="398.1" y="427.6" width="1" height="1" opacity="0.6"/>
<rect x="399.4" y="427.8" width="1" height="1" opacity="0.6"/>
<rect x="389.1" y="427.7" width="1" height="1" opacity="0.6"/>
<rect x="376.9" y="427.3" width="1" height="1" opacity="0.6"/>
<rect x="405.7" y="428.6" width="1" height="1" opacity="0.6"/>
<rect x="392.9" y="429.5" width="1" height="1" opacity="0.6"/>
<rect x="392.6" y="429.6" width="1" height="1" opacity="0.6"/>
<rect x="385.9" y="428.1" width="1" height="1" opacity="0.6"/>
<rect x="395.8" y="427.5" width="1" height="1" opacity="0.6"/>
<rect x="377.3" y="428.4" width="1" height="1" opacity="0.6"/>
<rect x="383.7" y="429.3" width="1" height="1" opacity="0.6"/>
<rect x="382.2" y="427.0" width="1" height="1" opacity="0.6"/>
<rect x="385.4" y="430.6" width="1" height="1" opacity="0.6"/>
<rect x="387.6" y="428.5" width="1" height="1" opacity="0.6"/>
<rect x="388.1" y="428.7" width="1" height="1" opacity="0.6"/>
<rect x="395.5" y="430.0" width="1" height="1" opacity="0.6"/>
<rect x="374.9" y="430.7" width="1" height="1" opacity="0.6"/>
<rect x="388.0" y="427.9" width="1" height="1" opacity="0.6"/>
<rect x="407.2" y="427.4" width="1" height="1" opacity="0.6"/>
<rect x="403.6" y="429.1" width="1" height="1" opacity="0.6"/>
<rect x="379.8" y="429.3" width="1" height="1" opacity="0.6"/>
<rect x="393.9" y="427.9" width="1" height="1" opacity="0.6"/>
<rect x="369.4" y="428.5" width="1" height="1" opacity="0.6"/>
<rect x="386.4" y="426.8" width="1" height="1" opacity="0.6"/>
<rect x="402.6" y="427.4" width="1" height="1" opacity="0.6"/>
<rect x="384.8" y="428.0" width="1" height="1" opacity="0.6"/>
<rect x="381.7" y="427.4" width="1" height="1" opacity="0.6"/>
<rect x="388.8" y="428.7" width="1" height="1" opacity="0.6"/>
<rect x="383.9" y="428.3" width="1" height="1" opacity="0.6"/>
<rect x="376.9" y="429.4" width="1" height="1" opacity="0.6"/>
<rect x="382.0" y="428.8" width="1" height="1" opacity="0.6"/>
<rect x="380.7" y="427.8" width="1" height="1" opacity="0.6"/>
<rect x="389.7" y="426.5" width="1" height="1" opacity="0.6"/>
<rect x="407.7" y="427.6" width="1" height="1" opacity="0.6"/>
<rect x="387.4" y="427.3" width="1" height="1" opacity="0.6"/>
<rect x="400.8" y="429.8" width="1" height="1" opacity="0.6"/>
<rect x="390.3" y="426.3" width="1" height="1" opacity="0.6"/>
<rect x="384.0" y="429.3" width="1" height="1" opacity="0.6"/>
<rect x="383.8" y="426.8" width="1" height="1" opacity="0.6"/>
<rect x="378.5" y="427.6" width="1" height="1" opacity="0.6"/>
<rect x="388.1" y="427.4" width="1" height="1" opacity="0.6"/>
<rect x="388.3" y="432.2" width="1" height="1" opacity="0.6"/>
<rect x="402.1" y="426.4" width="1" height="1" opacity="0.6"/>
<rect x="390.7" y="428.3" width="1" height="1" opacity="0.6"/>
<rect x="386.9" y="429.8" width="1" height="1" opacity="0.6"/>
<rect x="385.3" y="427.9" width="1" height="1" opacity="0.6"/>
<rect x="385.0" y="428.3" width="1" height="1" opacity="0.6"/>
<rect x="398.3" y="429.0" width="1" height="1" opacity="0.6"/>
<rect x="377.3" y="428.1" width="1" height="1" opacity="0.6"/>
<rect x="381.7" y="429.7" width="1" height="1" opacity="0.6"/>
<rect x="389.8" y="429.5" width="1" height="1" opacity="0.6"/>
<rect x="387.4" y="425.6" width="1" height="1" opacity="0.6"/>
<rect x="391.6" y="428.5" width="1" height="1" opacity="0.6"/>
<rect x="392.0" y="426.3" width="1" height="1" opacity="0.6"/>
<rect x="388.6" y="427.3" width="1" height="1" opacity="0.6"/>
<rect x="382.5" y="429.0" width="1" height="1" opacity="0.6"/>
<rect x="390.8" y="427.0" width="1" height="1" opacity="0.6"/>
<rect x="369.3" y="426.9" width="1" height="1" opacity="0.45"/>
<rect x="378.4" y="434.0" width="1" height="1" opacity="0.45"/>
<rect x="382.6" y="427.3" width="1" height="1" opacity="0.45"/>
<rect x="376.1" y="432.6" width="1" height="1" opacity="0.45"/>
<rect x="396.4" y="434.1" width="1" height="1" opacity="0.45"/>
<rect x="385.9" y="432.2" width="1" height="1" opacity="0.45"/>
<rect x="374.5" y="430.9" width="1" height="1" opacity="0.45"/>
<rect x="380.3" y="430.3" width="1" height="1" opacity="0.45"/>
<rect x="383.5" y="431.0" width="1" height="1" opacity="0.45"/>
<rect x="385.7" y="434.7" width="1" height="1" opacity="0.45"/>
<rect x="388.9" y="432.6" width="1" height="1" opacity="0.45"/>
<rect x="381.1" y="428.8" width="1" height="1" opacity="0.45"/>
<rect x="382.1" y="432.9" width="1" height="1" opacity="0.45"/>
<rect x="374.9" y="434.3" width="1" height="1" opacity="0.45"/>
<rect x="380.3" y="432.5" width="1" height="1" opacity="0.45"/>
<rect x="380.4" y="429.3" width="1" height="1" opacity="0.45"/>
<rect x="399.5" y="429.5" width="1" height="1" opacity="0.45"/>
<rect x="390.3" y="430.7" width="1" height="1" opacity="0.45"/>
<rect x="385.2" y="430.2" width="1" height="1" opacity="0.45"/>
<rect x="379.7" y="433.6" width="1" height="1" opacity="0.45"/>
<rect x="398.6" y="430.1" width="1" height="1" opacity="0.45"/>
<rect x="383.1" y="433.7" width="1" height="1" opacity="0.45"/>
<rect x="378.0" y="433.2" width="1" height="1" opacity="0.45"/>
<rect x="376.7" y="433.0" width="1" height="1" opacity="0.45"/>
<rect x="386.5" y="434.2" width="1" height="1" opacity="0.45"/>
<rect x="385.9" y="429.4" width="1" height="1" opacity="0.45"/>
<rect x="388.3" y="429.6" width="1" height="1" opacity="0.45"/>
<rect x="389.0" y="434.8" width="1" height="1" opacity="0.45"/>
<rect x="387.8" y="430.7" width="1" height="1" opacity="0.45"/>
<rect x="392.5" y="432.1" width="1" height="1" opacity="0.45"/>
<rect x="373.0" y="431.1" width="1" height="1" opacity="0.45"/>
<rect x="394.4" y="431.2" width="1" height="1" opacity="0.45"/>
<rect x="384.0" y="431.1" width="1" height="1" opacity="0.45"/>
<rect x="369.5" y="430.8" width="1" height="1" opacity="0.45"/>
<rect x="385.9" y="432.2" width="1" height="1" opacity="0.45"/>
<rect x="394.8" y="425.0" width="1" height="1" opacity="0.4"/>
<rect x="404.6" y="429.0" width="1" height="1" opacity="0.4"/>
<rect x="403.2" y="429.8" width="1" height="1" opacity="0.4"/>
<rect x="392.9" y="427.2" width="1" height="1" opacity="0.4"/>
<rect x="398.2" y="430.3" width="1" height="1" opacity="0.4"/>
<rect x="384.2" y="427.7" width="1" height="1" opacity="0.4"/>
<rect x="391.0" y="428.8" width="1" height="1" opacity="0.4"/>
<rect x="406.3" y="427.6" width="1" height="1" opacity="0.4"/>
<rect x="387.3" y="428.1" width="1" height="1" opacity="0.4"/>
<rect x="394.0" y="425.8" width="1" height="1" opacity="0.4"/>
<rect x="402.2" y="427.3" width="1" height="1" opacity="0.4"/>
<rect x="400.8" y="426.2" width="1" height="1" opacity="0.4"/>
<rect x="403.7" y="426.0" width="1" height="1" opacity="0.4"/>
<rect x="403.4" y="425.5" width="1" height="1" opacity="0.4"/>
<rect x="405.7" y="427.5" width="1" height="1" opacity="0.4"/>
<rect x="385.1" y="427.7" width="1" height="1" opacity="0.4"/>
<rect x="398.4" y="426.6" width="1" height="1" opacity="0.4"/>
<rect x="392.5" y="428.4" width="1" height="1" opacity="0.4"/>
<rect x="394.8" y="423.7" width="1" height="1" opacity="0.4"/>
<rect x="393.0" y="428.6" width="1" height="1" opacity="0.4"/>
<rect x="398.1" y="429.4" width="1" height="1" opacity="0.4"/>
<rect x="391.2" y="431.6" width="1" height="1" opacity="0.4"/>
<rect x="401.6" y="428.4" width="1" height="1" opacity="0.4"/>
<rect x="403.6" y="429.3" width="1" height="1" opacity="0.4"/>
<rect x="396.7" y="427.1" width="1" height="1" opacity="0.4"/>
</g>
<line x1="370.2" y1="391" x2="370.2" y2="461.5" stroke="#000" stroke-width="3"/>
<line x1="347.2" y1="439.2" x2="418.6" y2="439.2" stroke="#000" stroke-width="3"/>
<text x="415.5" y="401.7" font-size="9.6" font-weight="bold" text-anchor="end" textLength="26.4" lengthAdjust="spacingAndGlyphs" >54.9%</text>
<rect x="346.0" y="463.9" width="3" height="1.8" fill="#444" opacity="0.75"/>
<rect x="342.8" y="460.6" width="2.8" height="1.8" fill="#444" opacity="0.75"/>
<rect x="363.9" y="463.9" width="3" height="1.8" fill="#444" opacity="0.75"/>
<rect x="342.8" y="443.0" width="2.8" height="1.8" fill="#444" opacity="0.75"/>
<rect x="381.7" y="463.9" width="3" height="1.8" fill="#444" opacity="0.75"/>
<rect x="342.8" y="425.4" width="2.8" height="1.8" fill="#444" opacity="0.75"/>
<rect x="399.6" y="463.9" width="3" height="1.8" fill="#444" opacity="0.75"/>
<rect x="342.8" y="407.7" width="2.8" height="1.8" fill="#444" opacity="0.75"/>
<rect x="417.4" y="463.9" width="3" height="1.8" fill="#444" opacity="0.75"/>
<rect x="342.8" y="390.1" width="2.8" height="1.8" fill="#444" opacity="0.75"/>
<rect x="380.8" y="469.3" width="6" height="1.5" fill="#666" opacity="0.6"/>
<rect x="342.8" y="418.2" width="1.5" height="6" fill="#666" opacity="0.6"/>
<rect x="440.2" y="391" width="72.00000000000006" height="70.5" fill="#fff" stroke="#000" stroke-width="2"/>
<g filter="url(#bl)">
<ellipse cx="452" cy="429.4" rx="11.5" ry="5.2" transform="rotate(-27 452 429.4)" fill="url(#g1)"/>
<ellipse cx="478" cy="428.1" rx="15" ry="3.8" transform="rotate(-3 478 428.1)" fill="url(#g2)"/>
<rect x="455.8" y="428.3" width="1" height="1" opacity="0.6"/>
<rect x="444.1" y="430.9" width="1" height="1" opacity="0.6"/>
<rect x="453.6" y="428.7" width="1" height="1" opacity="0.6"/>
<rect x="453.4" y="430.0" width="1" height="1" opacity="0.6"/>
<rect x="453.8" y="432.0" width="1" height="1" opacity="0.6"/>
<rect x="449.3" y="429.8" width="1" height="1" opacity="0.6"/>
<rect x="453.6" y="430.1" width="1" height="1" opacity="0.6"/>
<rect x="456.0" y="430.6" width="1" height="1" opacity="0.6"/>
<rect x="451.2" y="432.3" width="1" height="1" opacity="0.6"/>
<rect x="452.5" y="426.7" width="1" height="1" opacity="0.6"/>
<rect x="453.2" y="433.4" width="1" height="1" opacity="0.6"/>
<rect x="454.2" y="427.1" width="1" height="1" opacity="0.6"/>
<rect x="442.6" y="432.4" width="1" height="1" opacity="0.6"/>
<rect x="449.4" y="430.8" width="1" height="1" opacity="0.6"/>
<rect x="460.7" y="426.5" width="1" height="1" opacity="0.6"/>
<rect x="452.1" y="427.2" width="1" height="1" opacity="0.6"/>
<rect x="447.4" y="431.2" width="1" height="1" opacity="0.6"/>
<rect x="452.9" y="435.6" width="1" height="1" opacity="0.6"/>
<rect x="449.8" y="429.0" width="1" height="1" opacity="0.6"/>
<rect x="455.9" y="427.5" width="1" height="1" opacity="0.6"/>
<rect x="448.6" y="433.9" width="1" height="1" opacity="0.6"/>
<rect x="449.5" y="427.6" width="1" height="1" opacity="0.6"/>
<rect x="453.4" y="429.7" width="1" height="1" opacity="0.6"/>
<rect x="451.2" y="431.3" width="1" height="1" opacity="0.6"/>
<rect x="453.9" y="426.3" width="1" height="1" opacity="0.6"/>
<rect x="442.3" y="428.9" width="1" height="1" opacity="0.6"/>
<rect x="452.5" y="431.8" width="1" height="1" opacity="0.6"/>
<rect x="456.6" y="430.1" width="1" height="1" opacity="0.6"/>
<rect x="458.4" y="426.1" width="1" height="1" opacity="0.6"/>
<rect x="454.2" y="424.8" width="1" height="1" opacity="0.6"/>
<rect x="454.6" y="428.8" width="1" height="1" opacity="0.6"/>
<rect x="451.1" y="428.8" width="1" height="1" opacity="0.6"/>
<rect x="448.0" y="431.7" width="1" height="1" opacity="0.6"/>
<rect x="456.0" y="426.4" width="1" height="1" opacity="0.6"/>
<rect x="453.1" y="427.3" width="1" height="1" opacity="0.6"/>
<rect x="451.8" y="427.1" width="1" height="1" opacity="0.6"/>
<rect x="453.0" y="428.3" width="1" height="1" opacity="0.6"/>
<rect x="452.4" y="427.7" width="1" height="1" opacity="0.6"/>
<rect x="447.3" y="431.0" width="1" height="1" opacity="0.6"/>
<rect x="456.9" y="430.3" width="1" height="1" opacity="0.6"/>
<rect x="451.4" y="431.4" width="1" height="1" opacity="0.6"/>
<rect x="454.9" y="428.7" width="1" height="1" opacity="0.6"/>
<rect x="446.6" y="432.8" width="1" height="1" opacity="0.6"/>
<rect x="449.4" y="433.3" width="1" height="1" opacity="0.6"/>
<rect x="455.2" y="429.1" width="1" height="1" opacity="0.6"/>
<rect x="443.3" y="435.1" width="1" height="1" opacity="0.6"/>
<rect x="453.1" y="425.9" width="1" height="1" opacity="0.6"/>
<rect x="455.3" y="427.8" width="1" height="1" opacity="0.6"/>
<rect x="450.5" y="428.5" width="1" height="1" opacity="0.6"/>
<rect x="447.8" y="430.5" width="1" height="1" opacity="0.6"/>
<rect x="463.0" y="424.2" width="1" height="1" opacity="0.6"/>
<rect x="452.0" y="427.9" width="1" height="1" opacity="0.6"/>
<rect x="449.1" y="429.5" width="1" height="1" opacity="0.6"/>
<rect x="449.4" y="432.6" width="1" height="1" opacity="0.6"/>
<rect x="451.6" y="431.4" width="1" height="1" opacity="0.6"/>
<rect x="448.5" y="433.2" width="1" height="1" opacity="0.6"/>
<rect x="452.3" y="430.6" width="1" height="1" opacity="0.6"/>
<rect x="450.6" y="428.0" width="1" height="1" opacity="0.6"/>
<rect x="455.7" y="426.4" width="1" height="1" opacity="0.6"/>
<rect x="450.5" y="428.1" width="1" height="1" opacity="0.6"/>
<rect x="452.2" y="428.3" width="1" height="1" opacity="0.6"/>
<rect x="453.1" y="429.5" width="1" height="1" opacity="0.6"/>
<rect x="448.1" y="428.1" width="1" height="1" opacity="0.6"/>
<rect x="454.2" y="430.2" width="1" height="1" opacity="0.6"/>
<rect x="453.2" y="426.1" width="1" height="1" opacity="0.6"/>
<rect x="454.3" y="429.0" width="1" height="1" opacity="0.6"/>
<rect x="453.2" y="429.7" width="1" height="1" opacity="0.6"/>
<rect x="450.8" y="430.4" width="1" height="1" opacity="0.6"/>
<rect x="454.6" y="426.8" width="1" height="1" opacity="0.6"/>
<rect x="446.6" y="431.8" width="1" height="1" opacity="0.6"/>
<rect x="450.8" y="425.8" width="1" height="1" opacity="0.6"/>
<rect x="449.9" y="431.7" width="1" height="1" opacity="0.6"/>
<rect x="451.3" y="429.8" width="1" height="1" opacity="0.6"/>
<rect x="448.1" y="433.3" width="1" height="1" opacity="0.6"/>
<rect x="457.9" y="425.9" width="1" height="1" opacity="0.6"/>
<rect x="448.1" y="428.7" width="1" height="1" opacity="0.6"/>
<rect x="455.1" y="428.0" width="1" height="1" opacity="0.6"/>
<rect x="450.1" y="433.0" width="1" height="1" opacity="0.6"/>
<rect x="455.1" y="429.1" width="1" height="1" opacity="0.6"/>
<rect x="445.4" y="432.4" width="1" height="1" opacity="0.6"/>
<rect x="452.9" y="426.1" width="1" height="1" opacity="0.6"/>
<rect x="456.4" y="430.3" width="1" height="1" opacity="0.6"/>
<rect x="454.8" y="426.2" width="1" height="1" opacity="0.6"/>
<rect x="450.1" y="432.4" width="1" height="1" opacity="0.6"/>
<rect x="456.5" y="429.8" width="1" height="1" opacity="0.6"/>
<rect x="456.0" y="427.0" width="1" height="1" opacity="0.6"/>
<rect x="448.7" y="426.8" width="1" height="1" opacity="0.6"/>
<rect x="456.7" y="432.0" width="1" height="1" opacity="0.6"/>
<rect x="449.7" y="429.4" width="1" height="1" opacity="0.6"/>
<rect x="454.5" y="428.9" width="1" height="1" opacity="0.6"/>
<rect x="446.3" y="430.6" width="1" height="1" opacity="0.6"/>
<rect x="449.7" y="435.0" width="1" height="1" opacity="0.6"/>
<rect x="450.0" y="432.2" width="1" height="1" opacity="0.6"/>
<rect x="460.4" y="429.3" width="1" height="1" opacity="0.6"/>
<rect x="458.4" y="429.7" width="1" height="1" opacity="0.6"/>
<rect x="447.1" y="431.0" width="1" height="1" opacity="0.6"/>
<rect x="448.9" y="430.2" width="1" height="1" opacity="0.6"/>
<rect x="459.6" y="421.6" width="1" height="1" opacity="0.6"/>
<rect x="452.7" y="426.2" width="1" height="1" opacity="0.6"/>
<rect x="457.8" y="429.3" width="1" height="1" opacity="0.6"/>
<rect x="451.9" y="434.0" width="1" height="1" opacity="0.6"/>
<rect x="453.3" y="431.6" width="1" height="1" opacity="0.6"/>
<rect x="452.4" y="427.8" width="1" height="1" opacity="0.6"/>
<rect x="450.3" y="429.9" width="1" height="1" opacity="0.6"/>
<rect x="454.1" y="428.5" width="1" height="1" opacity="0.6"/>
<rect x="460.0" y="424.8" width="1" height="1" opacity="0.6"/>
<rect x="449.5" y="429.0" width="1" height="1" opacity="0.6"/>
<rect x="447.7" y="428.2" width="1" height="1" opacity="0.6"/>
<rect x="449.1" y="432.8" width="1" height="1" opacity="0.6"/>
<rect x="451.9" y="429.0" width="1" height="1" opacity="0.6"/>
<rect x="454.0" y="430.7" width="1" height="1" opacity="0.6"/>
<rect x="454.7" y="429.7" width="1" height="1" opacity="0.6"/>
<rect x="449.6" y="430.0" width="1" height="1" opacity="0.6"/>
<rect x="448.9" y="430.6" width="1" height="1" opacity="0.6"/>
<rect x="448.5" y="430.2" width="1" height="1" opacity="0.6"/>
<rect x="451.0" y="429.3" width="1" height="1" opacity="0.6"/>
<rect x="450.4" y="429.0" width="1" height="1" opacity="0.6"/>
<rect x="456.2" y="426.4" width="1" height="1" opacity="0.6"/>
<rect x="448.4" y="431.6" width="1" height="1" opacity="0.6"/>
<rect x="446.9" y="429.5" width="1" height="1" opacity="0.6"/>
<rect x="450.6" y="426.3" width="1" height="1" opacity="0.6"/>
<rect x="454.0" y="424.5" width="1" height="1" opacity="0.6"/>
<rect x="449.1" y="432.1" width="1" height="1" opacity="0.6"/>
<rect x="443.9" y="431.5" width="1" height="1" opacity="0.6"/>
<rect x="447.3" y="431.2" width="1" height="1" opacity="0.6"/>
<rect x="445.6" y="434.6" width="1" height="1" opacity="0.6"/>
<rect x="451.6" y="430.2" width="1" height="1" opacity="0.6"/>
<rect x="448.7" y="426.2" width="1" height="1" opacity="0.6"/>
<rect x="450.0" y="427.3" width="1" height="1" opacity="0.6"/>
<rect x="451.1" y="427.9" width="1" height="1" opacity="0.6"/>
<rect x="450.5" y="429.6" width="1" height="1" opacity="0.6"/>
<rect x="455.2" y="429.4" width="1" height="1" opacity="0.6"/>
<rect x="448.2" y="431.2" width="1" height="1" opacity="0.6"/>
<rect x="457.5" y="427.6" width="1" height="1" opacity="0.6"/>
<rect x="449.1" y="430.5" width="1" height="1" opacity="0.6"/>
<rect x="451.4" y="431.7" width="1" height="1" opacity="0.6"/>
<rect x="452.3" y="430.0" width="1" height="1" opacity="0.6"/>
<rect x="458.4" y="422.9" width="1" height="1" opacity="0.6"/>
<rect x="446.6" y="428.2" width="1" height="1" opacity="0.6"/>
<rect x="446.9" y="433.8" width="1" height="1" opacity="0.6"/>
<rect x="454.3" y="431.8" width="1" height="1" opacity="0.6"/>
<rect x="444.0" y="431.4" width="1" height="1" opacity="0.6"/>
<rect x="457.9" y="428.6" width="1" height="1" opacity="0.6"/>
<rect x="455.7" y="429.3" width="1" height="1" opacity="0.6"/>
<rect x="451.9" y="429.3" width="1" height="1" opacity="0.6"/>
<rect x="452.7" y="430.8" width="1" height="1" opacity="0.6"/>
<rect x="451.5" y="430.3" width="1" height="1" opacity="0.6"/>
<rect x="456.0" y="424.8" width="1" height="1" opacity="0.6"/>
<rect x="449.6" y="431.8" width="1" height="1" opacity="0.6"/>
<rect x="474.0" y="427.8" width="1" height="1" opacity="0.4"/>
<rect x="491.8" y="427.9" width="1" height="1" opacity="0.4"/>
<rect x="473.0" y="430.1" width="1" height="1" opacity="0.4"/>
<rect x="494.8" y="425.0" width="1" height="1" opacity="0.4"/>
<rect x="471.0" y="428.5" width="1" height="1" opacity="0.4"/>
<rect x="471.4" y="432.2" width="1" height="1" opacity="0.4"/>
<rect x="479.9" y="427.1" width="1" height="1" opacity="0.4"/>
<rect x="479.6" y="426.4" width="1" height="1" opacity="0.4"/>
<rect x="471.5" y="428.4" width="1" height="1" opacity="0.4"/>
<rect x="493.7" y="423.0" width="1" height="1" opacity="0.4"/>
<rect x="479.3" y="430.3" width="1" height="1" opacity="0.4"/>
<rect x="481.7" y="431.2" width="1" height="1" opacity="0.4"/>
<rect x="479.4" y="428.1" width="1" height="1" opacity="0.4"/>
<rect x="474.9" y="426.5" width="1" height="1" opacity="0.4"/>
<rect x="488.1" y="425.2" width="1" height="1" opacity="0.4"/>
<rect x="475.0" y="427.1" width="1" height="1" opacity="0.4"/>
<rect x="469.9" y="424.3" width="1" height="1" opacity="0.4"/>
<rect x="473.2" y="428.4" width="1" height="1" opacity="0.4"/>
<rect x="477.2" y="429.5" width="1" height="1" opacity="0.4"/>
<rect x="474.7" y="426.9" width="1" height="1" opacity="0.4"/>
<rect x="478.4" y="429.1" width="1" height="1" opacity="0.4"/>
<rect x="469.1" y="425.6" width="1" height="1" opacity="0.4"/>
<rect x="468.4" y="430.3" width="1" height="1" opacity="0.4"/>
<rect x="483.4" y="426.0" width="1" height="1" opacity="0.4"/>
<rect x="476.9" y="429.5" width="1" height="1" opacity="0.4"/>
<rect x="485.9" y="426.3" width="1" height="1" opacity="0.4"/>
<rect x="474.3" y="430.6" width="1" height="1" opacity="0.4"/>
<rect x="494.2" y="429.8" width="1" height="1" opacity="0.4"/>
<rect x="467.5" y="429.3" width="1" height="1" opacity="0.4"/>
<rect x="473.8" y="428.0" width="1" height="1" opacity="0.4"/>
<rect x="471.0" y="427.4" width="1" height="1" opacity="0.4"/>
<rect x="476.1" y="431.2" width="1" height="1" opacity="0.4"/>
<rect x="481.3" y="428.5" width="1" height="1" opacity="0.4"/>
<rect x="476.1" y="426.6" width="1" height="1" opacity="0.4"/>
<rect x="474.4" y="430.3" width="1" height="1" opacity="0.4"/>
<rect x="482.4" y="431.2" width="1" height="1" opacity="0.4"/>
<rect x="478.0" y="427.9" width="1" height="1" opacity="0.4"/>
<rect x="463.9" y="429.4" width="1" height="1" opacity="0.4"/>
<rect x="463.2" y="431.4" width="1" height="1" opacity="0.4"/>
<rect x="471.3" y="428.2" width="1" height="1" opacity="0.4"/>
<rect x="465.8" y="427.6" width="1" height="1" opacity="0.4"/>
<rect x="469.1" y="430.4" width="1" height="1" opacity="0.4"/>
<rect x="477.7" y="425.8" width="1" height="1" opacity="0.4"/>
<rect x="461.5" y="428.6" width="1" height="1" opacity="0.4"/>
<rect x="472.3" y="426.2" width="1" height="1" opacity="0.4"/>
<rect x="480.4" y="427.4" width="1" height="1" opacity="0.4"/>
<rect x="476.8" y="426.9" width="1" height="1" opacity="0.4"/>
<rect x="471.7" y="427.4" width="1" height="1" opacity="0.4"/>
<rect x="464.1" y="429.8" width="1" height="1" opacity="0.4"/>
<rect x="478.9" y="424.7" width="1" height="1" opacity="0.4"/>
<rect x="476.9" y="430.0" width="1" height="1" opacity="0.4"/>
<rect x="477.9" y="430.2" width="1" height="1" opacity="0.4"/>
<rect x="474.0" y="428.1" width="1" height="1" opacity="0.4"/>
<rect x="466.2" y="426.9" width="1" height="1" opacity="0.4"/>
<rect x="462.3" y="427.1" width="1" height="1" opacity="0.4"/>
<rect x="477.9" y="428.8" width="1" height="1" opacity="0.4"/>
<rect x="484.7" y="427.8" width="1" height="1" opacity="0.4"/>
<rect x="468.6" y="429.2" width="1" height="1" opacity="0.4"/>
<rect x="475.1" y="431.3" width="1" height="1" opacity="0.4"/>
<rect x="490.8" y="429.0" width="1" height="1" opacity="0.4"/>
<rect x="467.4" y="427.5" width="1" height="1" opacity="0.4"/>
<rect x="477.4" y="426.6" width="1" height="1" opacity="0.4"/>
<rect x="480.0" y="429.0" width="1" height="1" opacity="0.4"/>
<rect x="482.3" y="428.1" width="1" height="1" opacity="0.4"/>
<rect x="469.3" y="426.8" width="1" height="1" opacity="0.4"/>
<rect x="475.2" y="430.4" width="1" height="1" opacity="0.4"/>
<rect x="487.9" y="429.1" width="1" height="1" opacity="0.4"/>
<rect x="478.8" y="429.1" width="1" height="1" opacity="0.4"/>
<rect x="482.3" y="430.0" width="1" height="1" opacity="0.4"/>
<rect x="482.3" y="424.9" width="1" height="1" opacity="0.4"/>
<rect x="482.5" y="431.2" width="1" height="1" opacity="0.3"/>
<rect x="466.9" y="431.7" width="1" height="1" opacity="0.3"/>
<rect x="475.2" y="429.8" width="1" height="1" opacity="0.3"/>
<rect x="453.4" y="430.4" width="1" height="1" opacity="0.3"/>
<rect x="478.1" y="429.8" width="1" height="1" opacity="0.3"/>
<rect x="454.5" y="431.5" width="1" height="1" opacity="0.3"/>
<rect x="479.9" y="430.6" width="1" height="1" opacity="0.3"/>
<rect x="476.7" y="428.9" width="1" height="1" opacity="0.3"/>
<rect x="464.8" y="431.7" width="1" height="1" opacity="0.3"/>
<rect x="468.1" y="430.6" width="1" height="1" opacity="0.3"/>
<rect x="507.8" y="432.3" width="1" height="1" opacity="0.3"/>
<rect x="473.5" y="424.8" width="1" height="1" opacity="0.3"/>
<rect x="473.1" y="432.4" width="1" height="1" opacity="0.3"/>
<rect x="464.2" y="429.2" width="1" height="1" opacity="0.3"/>
<rect x="447.2" y="431.8" width="1" height="1" opacity="0.3"/>
<rect x="465.5" y="432.2" width="1" height="1" opacity="0.3"/>
<rect x="487.0" y="429.5" width="1" height="1" opacity="0.3"/>
<rect x="482.8" y="430.8" width="1" height="1" opacity="0.3"/>
<rect x="469.8" y="429.1" width="1" height="1" opacity="0.3"/>
<rect x="462.6" y="434.1" width="1" height="1" opacity="0.3"/>
<rect x="481.7" y="426.8" width="1" height="1" opacity="0.3"/>
<rect x="481.3" y="427.7" width="1" height="1" opacity="0.3"/>
<rect x="455.4" y="433.8" width="1" height="1" opacity="0.3"/>
<rect x="457.9" y="433.8" width="1" height="1" opacity="0.3"/>
<rect x="474.2" y="432.9" width="1" height="1" opacity="0.3"/>
</g>
<line x1="464.2" y1="391" x2="464.2" y2="461.5" stroke="#000" stroke-width="3"/>
<line x1="440.2" y1="439.2" x2="512.2" y2="439.2" stroke="#000" stroke-width="3"/>
<text x="510" y="401.7" font-size="9.6" font-weight="bold" text-anchor="end" textLength="26.4" lengthAdjust="spacingAndGlyphs" >29.8%</text>
<rect x="439.0" y="463.9" width="3" height="1.8" fill="#444" opacity="0.75"/>
<rect x="435.8" y="460.6" width="2.8" height="1.8" fill="#444" opacity="0.75"/>
<rect x="457.0" y="463.9" width="3" height="1.8" fill="#444" opacity="0.75"/>
<rect x="435.8" y="443.0" width="2.8" height="1.8" fill="#444" opacity="0.75"/>
<rect x="475.0" y="463.9" width="3" height="1.8" fill="#444" opacity="0.75"/>
<rect x="435.8" y="425.4" width="2.8" height="1.8" fill="#444" opacity="0.75"/>
<rect x="493.0" y="463.9" width="3" height="1.8" fill="#444" opacity="0.75"/>
<rect x="435.8" y="407.7" width="2.8" height="1.8" fill="#444" opacity="0.75"/>
<rect x="511.0" y="463.9" width="3" height="1.8" fill="#444" opacity="0.75"/>
<rect x="435.8" y="390.1" width="2.8" height="1.8" fill="#444" opacity="0.75"/>
<rect x="474.0" y="469.3" width="6" height="1.5" fill="#666" opacity="0.6"/>
<rect x="435.8" y="418.2" width="1.5" height="6" fill="#666" opacity="0.6"/>
<text x="297" y="451.5" font-size="10.6" font-weight="bold" text-anchor="start" textLength="21.5" lengthAdjust="spacingAndGlyphs" >CD8</text>
<line x1="320.8" y1="466.6" x2="320.8" y2="432" stroke="#000" stroke-width="1.6"/>
<path d="M316.3 432.2 L320.8 423.6 L325.3 432.2 Z" fill="#fff" stroke="#000" stroke-width="1.3"/>
<line x1="342" y1="488" x2="376.8" y2="488" stroke="#000" stroke-width="1.6"/>
<path d="M376.9 483.8 L386 488 L376.9 492.2 Z" fill="#fff" stroke="#000" stroke-width="1.3"/>
<text x="391" y="491.6" font-size="10.6" font-weight="bold">IFN-<tspan font-weight="normal" font-size="10.4">&#947;</tspan></text>
</g>
</svg>
</body></html>
